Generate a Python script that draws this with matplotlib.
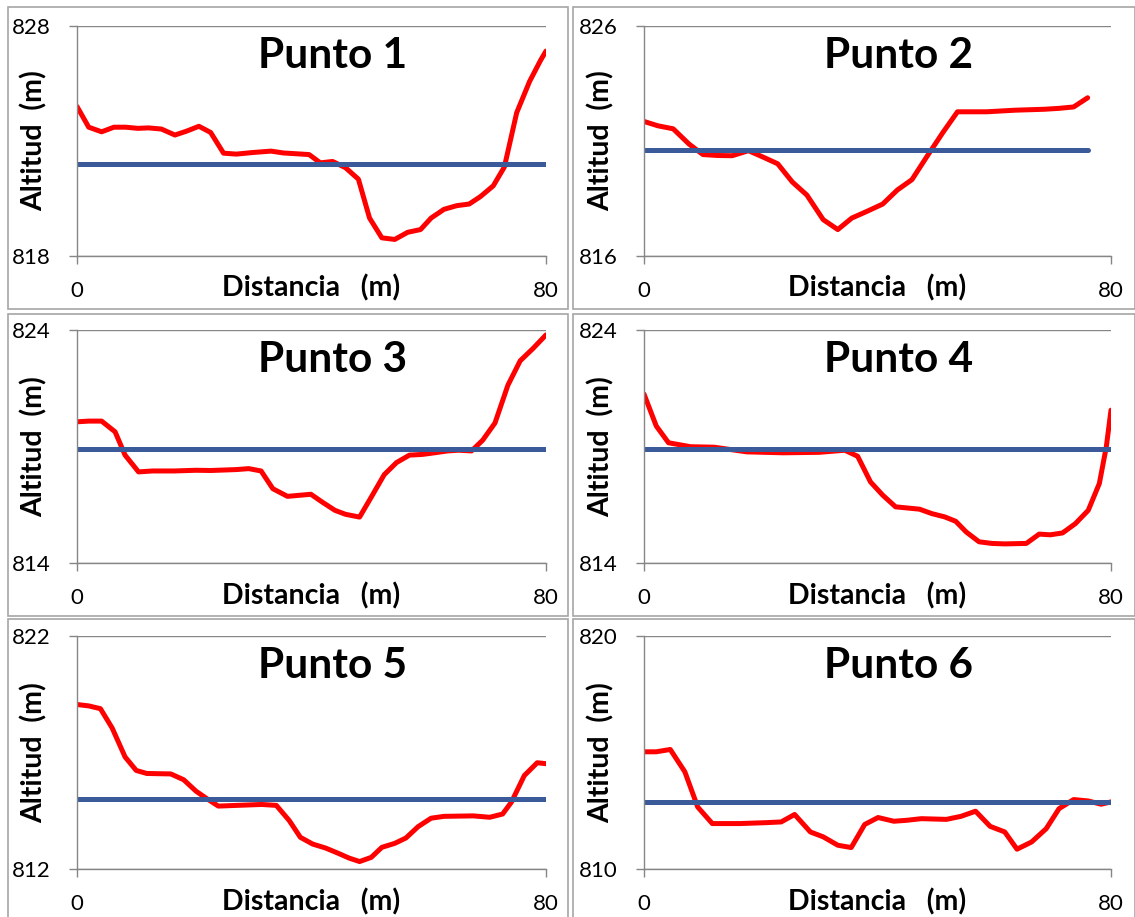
import matplotlib
matplotlib.use("Agg")
import matplotlib.pyplot as plt
from matplotlib.patches import Rectangle

plt.rcParams['font.family'] = ['Lato', 'DejaVu Sans']

# perfiles transversales (distancia en m, altitud en m)
dist1 = [0, 2, 4.2, 6.3, 8.3, 10.4, 12.2, 14.4, 16.7, 18.6, 20.8, 22.8, 25, 27.2, 30, 33.1, 35.2, 39.6, 41.5,
         43.6, 45.8, 48, 49.9, 52, 54.2, 56.4, 58.6, 60.4, 62.6, 64.8, 66.9, 68.8, 71, 72.9, 75, 77.2, 79.1, 80]
alt1 = [824.5, 823.6, 823.4, 823.6, 823.6, 823.55, 823.57, 823.52, 823.26, 823.42, 823.64, 823.37, 822.47,
        822.43, 822.5, 822.56, 822.48, 822.41, 822.05, 822.11, 821.84, 821.34, 819.65, 818.79, 818.72, 819.03,
        819.15, 819.65, 820.03, 820.19, 820.26, 820.58, 821.05, 821.87, 824.23, 825.59, 826.52, 826.91]

dist2 = [0, 2.4, 5, 7.7, 10.1, 12.6, 15.1, 17.9, 20.4, 22.9, 25.4, 27.9, 30.7, 33.2, 35.6, 38.1, 40.9, 43.4,
         45.9, 48.4, 51.2, 53.7, 58.7, 63.6, 68.6, 71.1, 73.6, 76]
alt2 = [821.85, 821.66, 821.53, 820.87, 820.41, 820.37, 820.36, 820.58, 820.3, 820.01, 819.22, 818.65, 817.58,
        817.15, 817.65, 817.93, 818.26, 818.87, 819.32, 820.3, 821.37, 822.27, 822.27, 822.34, 822.38, 822.42,
        822.48, 822.88]

dist3 = [0, 2, 4.2, 6.5, 8.2, 10.5, 12.9, 16.6, 20.3, 22.8, 27.2, 29.3, 31.4, 33.4, 35.9, 39.9, 41.8, 44, 45.8,
         48.2, 50.2, 52.4, 54.5, 56.7, 58.9, 61, 63.2, 65.1, 67.3, 69.2, 71.3, 73.5, 75.6, 77.8, 80]
alt3 = [820.06, 820.09, 820.09, 819.63, 818.63, 817.91, 817.95, 817.95, 817.98, 817.97, 818.01, 818.05, 817.95,
        817.19, 816.86, 816.95, 816.62, 816.26, 816.09, 815.97, 816.83, 817.79, 818.31, 818.63, 818.66, 818.73,
        818.81, 818.84, 818.81, 819.27, 820.01, 821.63, 822.68, 823.21, 823.79]

dist4 = [0, 2.1, 4.2, 8, 12, 17.6, 23.8, 30, 34.4, 36.6, 38.8, 40.9, 43.1, 47.2, 49.3, 51.5, 53.4, 55.2, 57.4,
         59.6, 61.8, 65.5, 67.7, 69.6, 71.7, 73.9, 76.1, 78, 79.2, 80]
alt4 = [821.25, 819.88, 819.16, 818.99, 818.97, 818.77, 818.73, 818.75, 818.84, 818.58, 817.48, 816.91, 816.41,
        816.31, 816.12, 815.98, 815.79, 815.33, 814.91, 814.84, 814.82, 814.84, 815.24, 815.21, 815.29, 815.69,
        816.26, 817.41, 818.99, 820.56]

dist5 = [0, 2, 4, 6, 8.2, 10.1, 11.9, 16, 18.2, 20.3, 22.2, 24.1, 27.2, 31.5, 34, 36.2, 38.1, 40.2, 42.4, 44.6,
         46.4, 48.2, 50.2, 52, 54.2, 56.1, 58.2, 60.4, 62.6, 67.6, 70.4, 72.6, 74.1, 76.3, 78.5, 80]
alt5 = [819.06, 819.0, 818.88, 818.05, 816.81, 816.23, 816.1, 816.08, 815.83, 815.34, 815.01, 814.7, 814.73,
        814.77, 814.73, 814.08, 813.36, 813.07, 812.9, 812.67, 812.47, 812.32, 812.5, 812.93, 813.1, 813.33,
        813.82, 814.18, 814.26, 814.28, 814.22, 814.36, 814.87, 816.01, 816.56, 816.52]

dist6 = [0, 2.1, 4.5, 7, 9.2, 11.7, 16.4, 21, 23.5, 25.8, 28.5, 30.7, 33.2, 35.5, 37.8, 40.1, 42.8, 45, 47.5,
         51.8, 54.3, 56.8, 59.3, 61.8, 63.9, 66.4, 68.9, 71.1, 73.6, 76.1, 78.3, 80]
alt6 = [815.03, 815.03, 815.13, 814.17, 812.66, 811.95, 811.95, 811.99, 812.02, 812.34, 811.59, 811.38, 811.02,
        810.92, 811.91, 812.21, 812.05, 812.09, 812.16, 812.13, 812.26, 812.48, 811.83, 811.59, 810.85, 811.16,
        811.73, 812.59, 812.98, 812.92, 812.78, 812.88]

# nivel del agua (linea azul)
nivel = [822.0, 820.6, 818.9, 818.9, 815.0, 812.88]
nivel_fin = [80, 76, 80, 80, 80, 80]

ylims = [(818, 828), (816, 826), (814, 824), (814, 824), (812, 822), (810, 820)]
titulos = ['Punto 1', 'Punto 2', 'Punto 3', 'Punto 4', 'Punto 5', 'Punto 6']

dists = [dist1, dist2, dist3, dist4, dist5, dist6]
alts = [alt1, alt2, alt3, alt4, alt5, alt6]

W, H = 1135, 917
fig = plt.figure(figsize=(W / 100, H / 100), dpi=100)

# marcos (px): x0, y0, x1, y1
marcos = [(8, 7, 568, 309), (573, 7, 1135, 309),
          (8, 314, 568, 616), (573, 314, 1135, 616),
          (8, 619, 568, 920), (573, 619, 1135, 920)]
for (x0, y0, x1, y1) in marcos:
    fig.patches.append(Rectangle((x0 / W, 1 - y1 / H), (x1 - x0) / W, (y1 - y0) / H,
                                 transform=fig.transFigure, fill=False, edgecolor='#a6a6a6', lw=1.2))

# areas de trazado (px)
cols = [(77, 546), (644, 1111)]
rows = [(26, 256), (330, 563), (636, 869)]

gris = '#868686'
for i in range(6):
    cx = cols[i % 2]
    ry = rows[i // 2]
    ax = fig.add_axes([cx[0] / W, 1 - ry[1] / H, (cx[1] - cx[0]) / W, (ry[1] - ry[0]) / H])
    ax.plot(dists[i], alts[i], color='#ff0000', lw=3.6, solid_joinstyle='round', solid_capstyle='round')
    ax.plot([0, nivel_fin[i]], [nivel[i], nivel[i]], color='#3a5a9a', lw=3.6, solid_capstyle='round')
    ax.set_xlim(0, 80)
    ax.set_ylim(ylims[i])
    ax.set_xticks([0, 80])
    ax.set_yticks(list(ylims[i]))
    ax.yaxis.grid(True, color=gris, lw=1)
    ax.set_axisbelow(True)
    for s in ['top', 'right']:
        ax.spines[s].set_visible(False)
    for s in ['left', 'bottom']:
        ax.spines[s].set_color(gris)
        ax.spines[s].set_linewidth(1)
    ax.tick_params(axis='y', length=6, width=1, color=gris, pad=13, labelsize=16)
    ax.tick_params(axis='x', length=6, width=1, color=gris, pad=12, labelsize=16)
    ax.set_xlabel('Distancia   (m)', fontsize=20.5, fontweight='bold')
    ax.xaxis.set_label_coords(0.5, -0.14)
    ax.xaxis.label.set_va('center')
    ax.set_ylabel('Altitud  (m)', fontsize=20.5, fontweight='bold')
    ax.yaxis.set_label_coords(-0.092, 0.5)
    ax.yaxis.label.set_va('center')
    ax.text(0.545, 0.87, titulos[i], transform=ax.transAxes, ha='center', va='center',
            fontsize=30.5, fontweight='bold')

plt.savefig('out.png', dpi=100)
